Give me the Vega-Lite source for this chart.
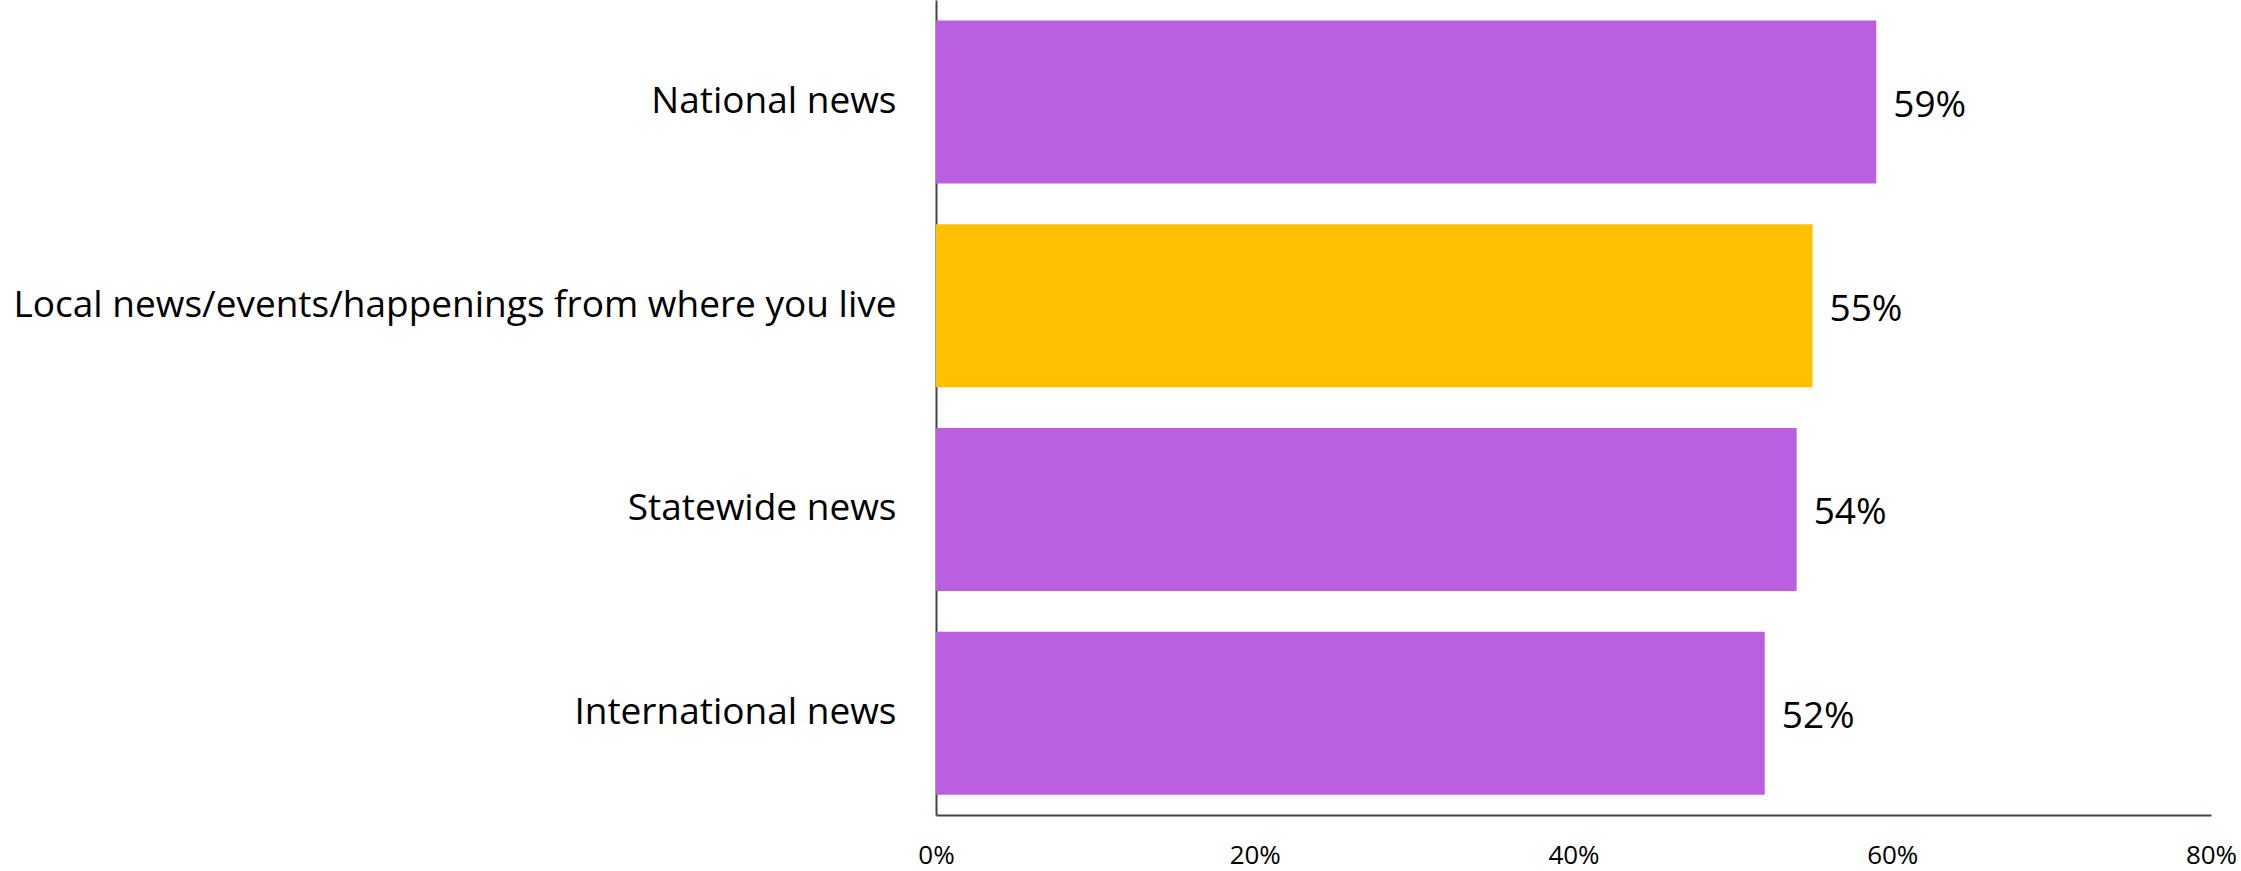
{
  "$schema": "https://vega.github.io/schema/vega-lite/v6.json",
  "autosize": {"type": "none"},
  "width": 1275,
  "height": 815,
  "padding": {"left": 936, "top": 0, "right": 30, "bottom": 56},
  "background": "white",
  "config": {"view": {"stroke": null}, "font": "Open Sans"},
  "data": {
    "values": [
      {"category": "National news", "value": 0.59, "group": "other"},
      {"category": "Local news/events/happenings from where you live", "value": 0.55, "group": "local"},
      {"category": "Statewide news", "value": 0.54, "group": "other"},
      {"category": "International news", "value": 0.52, "group": "other"}
    ]
  },
  "encoding": {
    "y": {
      "field": "category",
      "type": "nominal",
      "sort": null,
      "scale": {"paddingInner": 0.2, "paddingOuter": 0.1},
      "axis": {
        "title": null,
        "ticks": false,
        "labelFontSize": 37,
        "labelColor": "#000000",
        "labelPadding": 40,
        "labelLimit": 1000,
        "domainColor": "#3c474d",
        "domainWidth": 2
      }
    },
    "x": {
      "field": "value",
      "type": "quantitative",
      "scale": {"domain": [0, 0.8]},
      "axis": {
        "title": null,
        "values": [0, 0.2, 0.4, 0.6, 0.8],
        "format": ".0%",
        "grid": false,
        "ticks": false,
        "labelFontSize": 26,
        "labelColor": "#000000",
        "labelPadding": 27,
        "labelFlush": false,
        "domainColor": "#3c474d",
        "domainWidth": 2
      }
    }
  },
  "layer": [
    {
      "mark": {"type": "bar"},
      "encoding": {
        "color": {
          "field": "group",
          "type": "nominal",
          "scale": {"domain": ["other", "local"], "range": ["#B95FE0", "#FFC000"]},
          "legend": null
        }
      }
    },
    {
      "mark": {"type": "text", "align": "left", "baseline": "middle", "dx": 17, "dy": 4, "fontSize": 37, "color": "#000000"},
      "encoding": {
        "text": {"field": "value", "type": "quantitative", "format": ".0%"}
      }
    }
  ]
}
